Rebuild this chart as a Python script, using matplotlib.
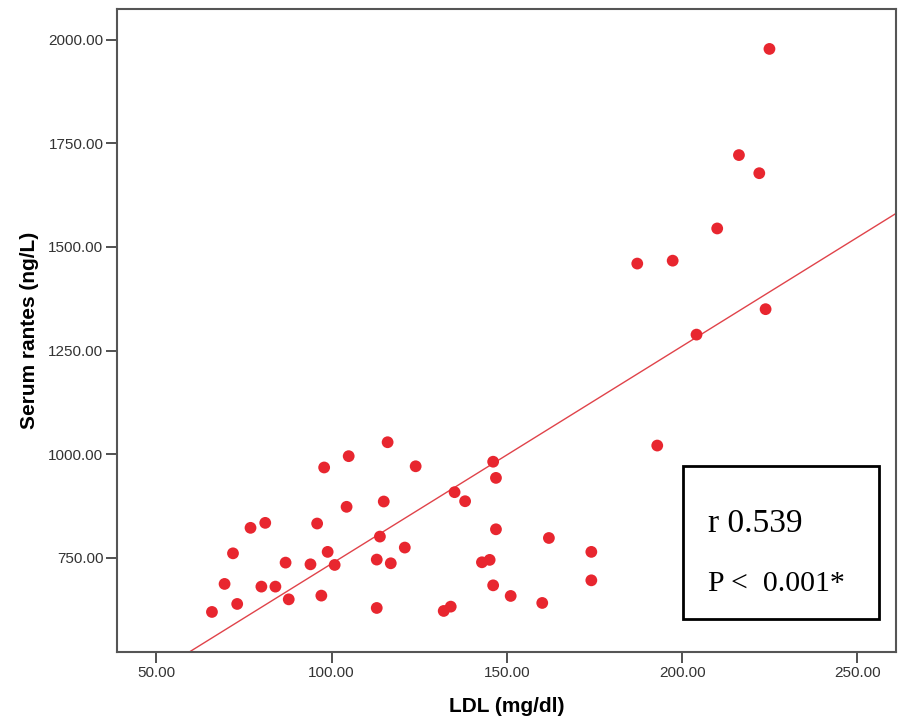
import numpy as np
import matplotlib
matplotlib.use("Agg")
import matplotlib.pyplot as plt
from matplotlib.patches import Rectangle

# Data
ldl = [65.9, 69.5, 71.9, 73.1, 76.9, 80.0, 81.1, 84.0, 86.9, 87.8,
       94.0, 95.9, 97.1, 97.9, 98.9, 100.9, 104.3, 104.9, 112.9, 112.9,
       113.8, 114.9, 116.0, 116.9, 120.9, 124.0, 132.0, 134.0, 135.1, 138.1,
       142.9, 145.1, 146.1, 146.1, 146.9, 146.9, 151.1, 160.1, 162.0, 174.1,
       174.1, 187.2, 192.9, 197.3, 204.1, 210.0, 216.2, 222.0, 223.8, 224.9]
rantes = [619.6, 687.2, 761.0, 638.9, 822.5, 680.7, 834.5, 680.7, 738.6, 650.0,
          734.5, 832.9, 659.0, 968.1, 764.5, 733.0, 873.2, 995.4, 745.9, 629.2,
          801.4, 886.0, 1029.0, 737.0, 774.9, 971.0, 622.0, 632.4, 908.5, 886.7,
          739.4, 745.2, 982.0, 683.8, 943.0, 819.0, 658.2, 641.3, 798.0, 764.5,
          695.9, 1460.0, 1021.0, 1467.0, 1288.6, 1544.7, 1721.7, 1678.0, 1350.0, 1977.8]
x_ticks = [50, 100, 150, 200, 250]
y_ticks = [750, 1000, 1250, 1500, 1750, 2000]
r_text = "r 0.539"
p_text = "P <  0.001*"

plt.rcParams['font.family'] = ['Liberation Sans', 'DejaVu Sans']

fig = plt.figure(figsize=(8.98, 7.19), dpi=100)
ax = fig.add_axes([0.1306, 0.0932, 0.8672, 0.8948])

ax.scatter(ldl, rantes, s=72, color='#e8262f', edgecolors='none', zorder=3)

# Linear fit line across the whole x range
xmin, xmax = 38.9, 261.0
coef = np.polyfit(ldl, rantes, 1)
xs = np.array([xmin, xmax])
ax.plot(xs, np.polyval(coef, xs), color='#e0434a', lw=1.0, zorder=2)

ax.set_xlim(xmin, xmax)
ax.set_ylim(523, 2075)
ax.set_xticks(x_ticks)
ax.set_yticks(y_ticks)
ax.set_xticklabels(["%.2f" % v for v in x_ticks])
ax.set_yticklabels(["%.2f" % v for v in y_ticks])
ax.tick_params(axis='both', direction='out', length=8, width=1.2,
               color='#333333', labelsize=11, labelcolor='#333333', pad=2)

for s in ax.spines.values():
    s.set_color('#555555')
    s.set_linewidth(1.5)

ax.set_xlabel("LDL (mg/dl)", fontsize=15, fontweight='bold', labelpad=12)
ax.set_ylabel("Serum rantes (ng/L)", fontsize=15, fontweight='bold', labelpad=7)

# Annotation box with correlation result
box = Rectangle((683 / 898, 1 - 619 / 719), 196 / 898, 153 / 719,
                transform=fig.transFigure, fill=False, lw=2, ec='black', zorder=5)
fig.patches.append(box)
fig.text(708 / 898, 1 - 532 / 719, r_text, fontsize=24,
         family='Liberation Serif', va='baseline')
fig.text(708 / 898, 1 - 591 / 719, p_text, fontsize=21.5,
         family='Liberation Serif', va='baseline')

fig.savefig("out.png", dpi=100)
